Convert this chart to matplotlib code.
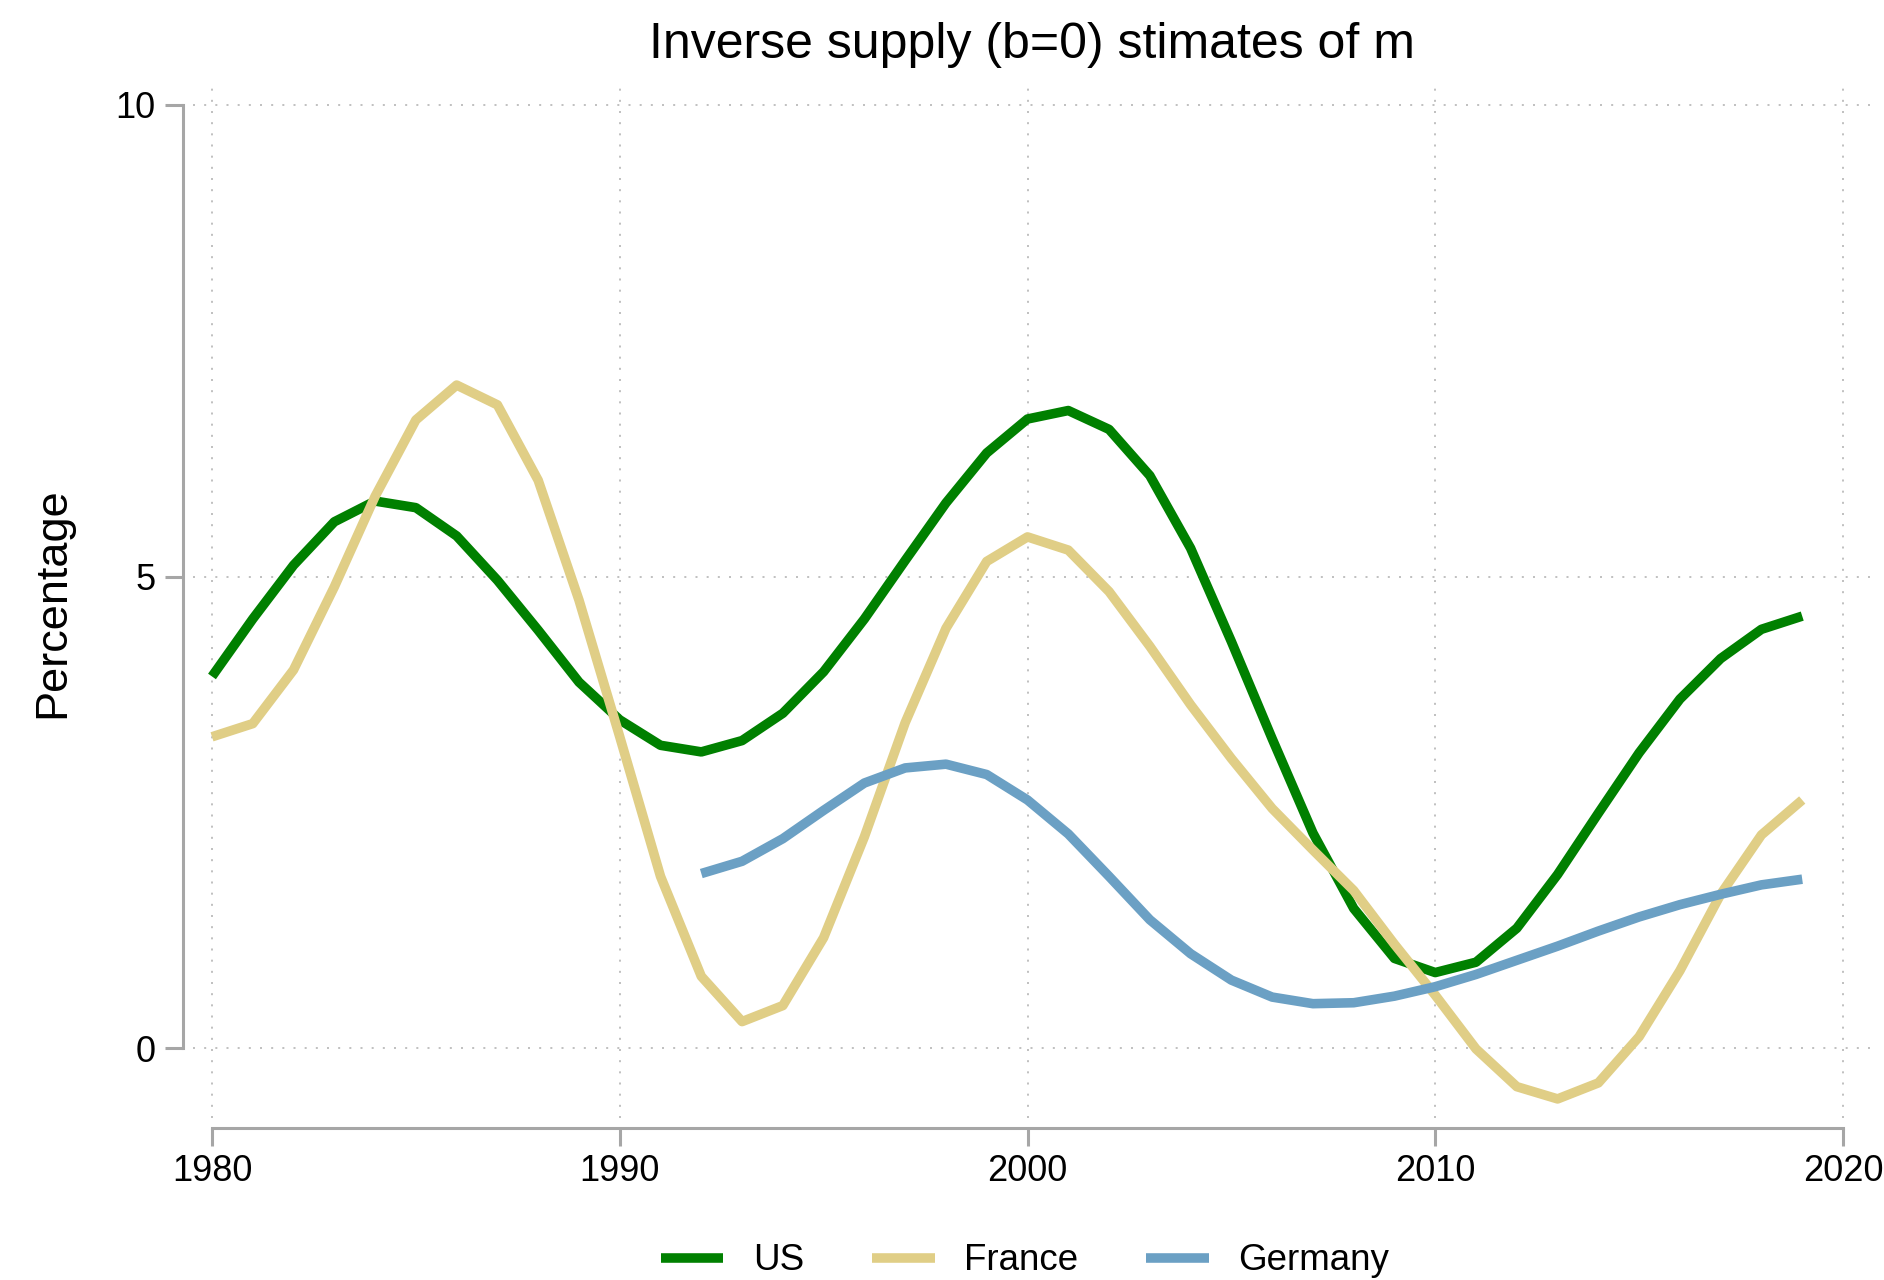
import matplotlib
matplotlib.use("Agg")
import matplotlib.pyplot as plt
import numpy as np

plt.rcParams['font.family'] = ['Liberation Sans', 'DejaVu Sans']

years = list(range(1980, 2020))
us = [3.94, 4.55, 5.12, 5.58, 5.80, 5.73, 5.43, 4.96, 4.43, 3.88,
      3.48, 3.21, 3.14, 3.26, 3.55, 3.99, 4.55, 5.17, 5.78, 6.31,
      6.67, 6.76, 6.56, 6.07, 5.30, 4.31, 3.28, 2.28, 1.48, 0.95,
      0.80, 0.91, 1.27, 1.84, 2.49, 3.13, 3.70, 4.13, 4.44, 4.58]
france = [3.30, 3.44, 4.01, 4.89, 5.85, 6.66, 7.03, 6.82, 6.02, 4.75,
          3.30, 1.82, 0.76, 0.28, 0.45, 1.17, 2.24, 3.45, 4.45, 5.16,
          5.42, 5.28, 4.84, 4.26, 3.64, 3.07, 2.54, 2.10, 1.67, 1.10,
          0.56, -0.01, -0.41, -0.54, -0.37, 0.12, 0.82, 1.63, 2.26, 2.63]
germany_years = list(range(1992, 2020))
germany = [1.85, 1.98, 2.22, 2.52, 2.81, 2.97, 3.01, 2.90, 2.63, 2.27,
           1.82, 1.36, 1.00, 0.72, 0.54, 0.47, 0.48, 0.55, 0.65, 0.78,
           0.93, 1.08, 1.24, 1.39, 1.52, 1.63, 1.73, 1.79]

series_labels = ["US", "France", "Germany"]
colors = ["#008000", "#E0CE86", "#6BA0C4"]
xticks = [1980, 1990, 2000, 2010, 2020]
yticks = [0, 5, 10]

W, H = 1884, 1280
fig = plt.figure(figsize=(W / 100, H / 100), dpi=100)
L, R, T, B = 193, 1870, 87, 1118
ax = fig.add_axes([L / W, 1 - B / H, (R - L) / W, (B - T) / H])

lw = 6.9
ax.plot(years, us, color=colors[0], lw=lw, label=series_labels[0],
        solid_capstyle='butt', solid_joinstyle='round')
ax.plot(years, france, color=colors[1], lw=lw, label=series_labels[1],
        solid_capstyle='butt', solid_joinstyle='round')
ax.plot(germany_years, germany, color=colors[2], lw=lw, label=series_labels[2],
        solid_capstyle='butt', solid_joinstyle='round')

ax.set_xlim(1980 - 19 / 40.78, 2020 + 27 / 40.78)
ax.set_ylim(-70 / 94.3, 10 + 18 / 94.3)
ax.set_xticks(xticks)
ax.set_yticks(yticks)

gray = "#a6a6a6"
ax.grid(True, color="#b5b5b5", lw=1.2, linestyle=(0, (1.2, 5.5)))
ax.set_axisbelow(True)

for s in ['top', 'right']:
    ax.spines[s].set_visible(False)
ax.spines['left'].set_position(('outward', 7.2))
ax.spines['bottom'].set_position(('outward', 7.2))
ax.spines['left'].set_bounds(0, 10)
ax.spines['bottom'].set_bounds(1980, 2020)
for s in ['left', 'bottom']:
    ax.spines[s].set_color(gray)
    ax.spines[s].set_linewidth(2.2)

ax.tick_params(axis='both', direction='out', length=13, width=2.2, color=gray,
               labelsize=26, labelcolor='black')
ax.tick_params(axis='y', pad=7)
ax.tick_params(axis='x', pad=6)

ax.set_title("Inverse supply (b=0) stimates of m", fontsize=36, pad=21)
fig.text(53 / W, 1 - 603 / H, "Percentage", rotation=90, ha='center',
         va='center', fontsize=32.5)

fig.legend(loc='center', bbox_to_anchor=(1025 / W, 1 - 1261 / H), ncol=3,
           frameon=False, fontsize=26.5, handlelength=1.7, handletextpad=0.8,
           columnspacing=1.85)

fig.savefig("out.png", dpi=100)
